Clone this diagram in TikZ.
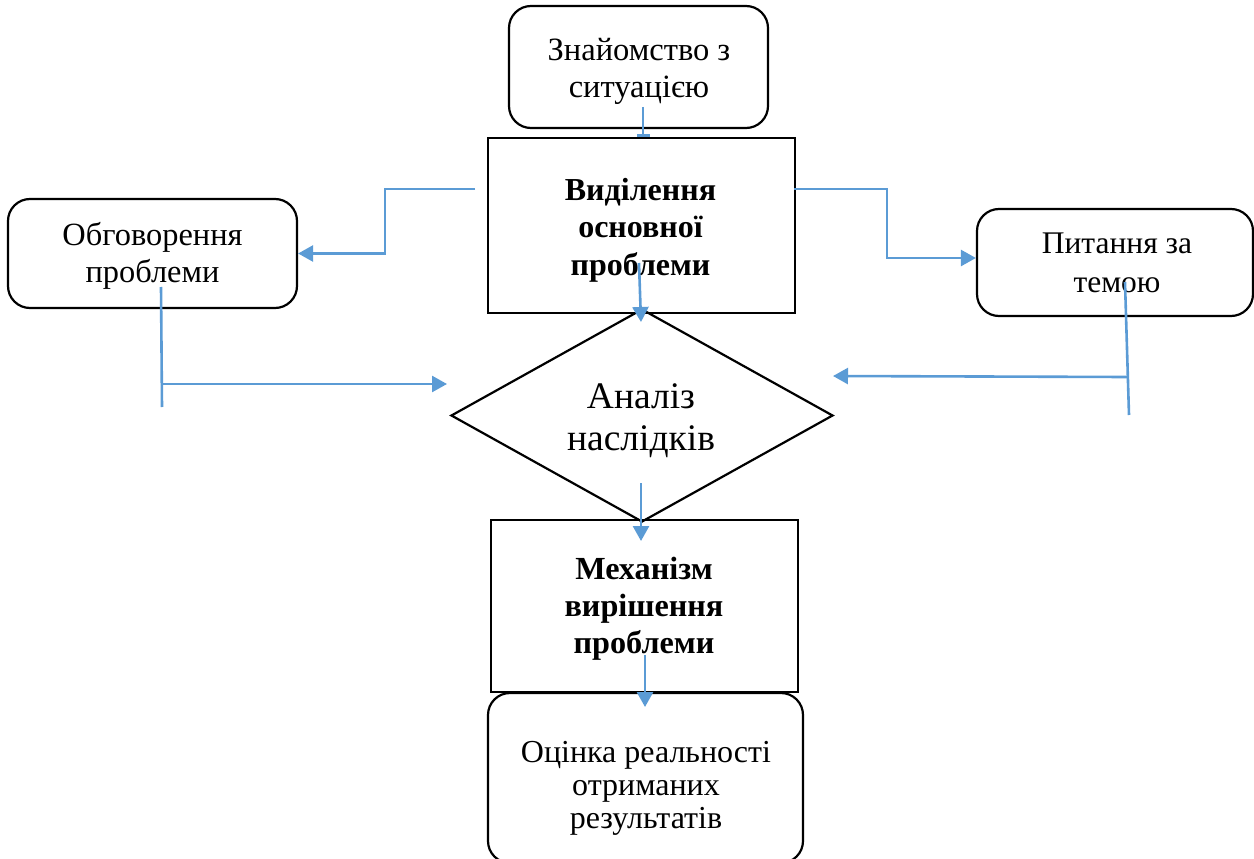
\documentclass[tikz,border=0pt]{standalone}
\usepackage{fontspec}
\setmainfont{Liberation Serif}
\usetikzlibrary{shapes.geometric,arrows.meta}
\definecolor{linkblue}{HTML}{5B9BD5}
\begin{document}
\begin{tikzpicture}[x=1pt,y=-1pt,
  shapebase/.style={draw=black, line width=2.2pt, inner sep=0pt},
  rbox/.style={shapebase, rounded corners=22pt},
  sbox/.style={shapebase},
  dia/.style={shapebase, diamond, aspect=1.79},
  txt/.style={align=center, inner sep=0pt, anchor=base, text=black},
  conn/.style={draw=linkblue, line width=2.6pt},
  arr/.style={conn, -{Triangle[length=15pt,width=16pt]}},
  barend/.style={conn, -{Bar[width=13pt]}}]
\useasboundingbox (0,0) rectangle (1254,859);
% shapes
\node[rbox, minimum width=259pt, minimum height=122pt] (top) at (638.5,67) {};
\node[sbox, minimum width=307pt, minimum height=175pt] (vyd) at (641.5,225.5) {};
\node[rbox, minimum width=289pt, minimum height=109pt] (obg) at (152.5,253.5) {};
\node[rbox, minimum width=276pt, minimum height=107pt] (pyt) at (1115,262.5) {};
\node[dia, minimum width=382pt, minimum height=213pt] (dia) at (642,415.5) {};
\node[sbox, minimum width=307pt, minimum height=172pt] (mech) at (644.5,606) {};
\node[rbox, minimum width=315pt, minimum height=170pt] (ocin) at (645.5,778) {};
% texts (anchored at last baseline)
\node[txt, font=\fontsize{32.5}{36}\selectfont] (topT) at (639,97) {Знайомство з\\ситуацією};
\node[txt, font=\fontsize{32}{37.5}\selectfont\bfseries] (vydT) at (640.5,275) {Виділення\\основної\\проблеми};
\node[txt, font=\fontsize{32.4}{37}\selectfont] (obgT) at (152.5,282) {Обговорення\\проблеми};
\node[txt, font=\fontsize{31.5}{39}\selectfont] (pytT) at (1117,292) {Питання за\\темою};
\node[txt, font=\fontsize{37.5}{42}\selectfont] (diaT) at (641,450) {Аналіз\\наслідків};
\node[txt, font=\fontsize{32.2}{37}\selectfont\bfseries] (mechT) at (644,653) {Механізм\\вирішення\\проблеми};
\node[txt, font=\fontsize{32}{33}\selectfont] (ocinT) at (646,828) {Оцінка реальності\\отриманих\\результатів};
% connector points
\coordinate (c1s) at (643,107);
\coordinate (c2s) at (475,189);
\coordinate (c2k) at (385,189);
\coordinate (c3s) at (794,189);
\coordinate (c3k) at (887,189);
\coordinate (c3m) at (887,258);
\coordinate (c4s) at (639,263);
\coordinate (c4e) at (641,322);
\coordinate (c5a) at (161,287);
\coordinate (c5b) at (162,407);
\coordinate (c5m) at (162,384);
\coordinate (c5e) at (447,384);
\coordinate (c6a) at (1125,282);
\coordinate (c6b) at (1129,415);
\coordinate (c6m) at (1127,377);
\coordinate (c6e) at (833,376);
\coordinate (c7s) at (641,483);
\coordinate (c7e) at (641,541);
\coordinate (c8s) at (645,655);
\coordinate (c8e) at (645,707);
% connectors
\draw[barend] (c1s) -- (c1s |- vyd.north);
\draw[arr] (c2s) -- (c2k) |- (obg.east);
\draw[arr] (c3s) -- (c3k) -- (c3m) -- (c3m -| pyt.west);
\draw[arr] (c4s) -- (c4e);
\draw[conn] (c5a) -- (c5b);
\draw[arr] (c5m) -- (c5e);
\draw[conn] (c6a) -- (c6b);
\draw[arr] (c6m) -- (c6e);
\draw[arr] (c7s) -- (c7e);
\draw[arr] (c8s) -- (c8e);
\end{tikzpicture}
\end{document}
